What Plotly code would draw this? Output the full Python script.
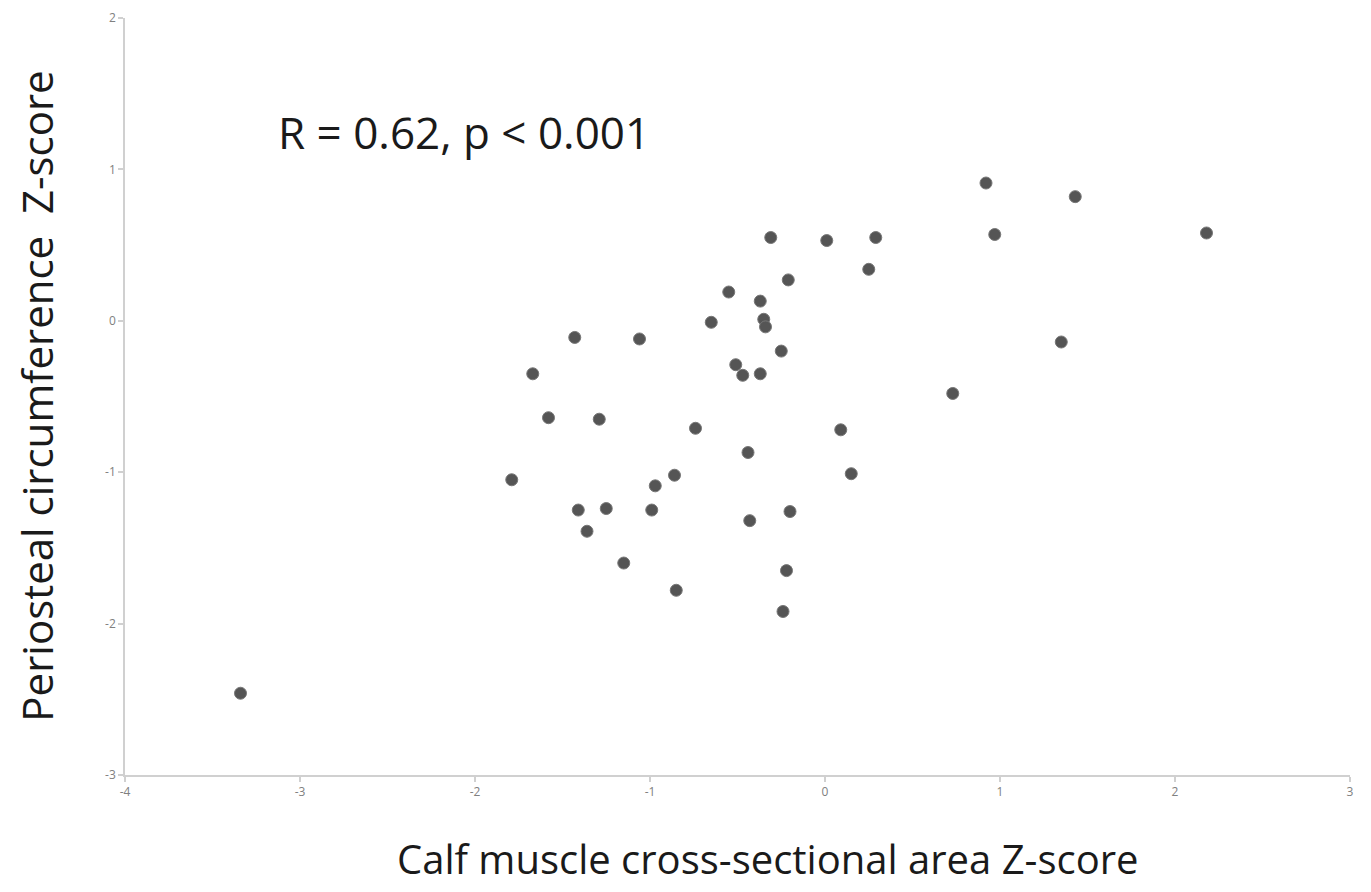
import plotly.graph_objects as go

x_vals = [-3.34, -1.79, -1.67, -1.58, -1.43, -1.41, -1.36, -1.29, -1.25, -1.15,
          -1.06, -0.99, -0.97, -0.86, -0.85, -0.74, -0.65, -0.55, -0.51, -0.47,
          -0.44, -0.43, -0.37, -0.37, -0.35, -0.34, -0.31, -0.25, -0.24, -0.22,
          -0.21, -0.20, 0.01, 0.09, 0.15, 0.25, 0.29, 0.73, 0.92, 0.97,
          1.35, 1.43, 2.18]
y_vals = [-2.46, -1.05, -0.35, -0.64, -0.11, -1.25, -1.39, -0.65, -1.24, -1.60,
          -0.12, -1.25, -1.09, -1.02, -1.78, -0.71, -0.01, 0.19, -0.29, -0.36,
          -0.87, -1.32, -0.35, 0.13, 0.01, -0.04, 0.55, -0.20, -1.92, -1.65,
          0.27, -1.26, 0.53, -0.72, -1.01, 0.34, 0.55, -0.48, 0.91, 0.57,
          -0.14, 0.82, 0.58]

x_ticks = [-4, -3, -2, -1, 0, 1, 2, 3]
y_ticks = [-3, -2, -1, 0, 1, 2]

x_title = "Calf muscle cross-sectional area Z-score"
y_title = "Periosteal circumference  Z-score"
stat_text = "R = 0.62, p < 0.001"

fig = go.Figure()
fig.add_trace(go.Scatter(
    x=x_vals, y=y_vals, mode="markers",
    marker=dict(size=12, color="#555555", line=dict(width=1, color="#777777")),
    showlegend=False,
))

axis_common = dict(
    showgrid=False, zeroline=False, showline=True, linecolor="#d0d0d0", linewidth=1.5,
    ticks="outside", ticklen=5, tickcolor="#d0d0d0", tickwidth=1.5,
    tickfont=dict(family="Open Sans", size=12, color="#808080"),
    automargin=False,
)

fig.update_xaxes(range=[-4, 3], tickvals=x_ticks, ticktext=[str(t) for t in x_ticks],
                 **axis_common)
fig.update_yaxes(range=[-3, 2], tickvals=y_ticks, ticktext=[str(t) for t in y_ticks],
                 **axis_common)

# axis titles as annotations for exact placement
fig.add_annotation(x=0.525, y=-0.11, xref="paper", yref="paper", text=x_title,
                   showarrow=False, xanchor="center", yanchor="middle",
                   font=dict(family="Open Sans", size=40, color="#1a1a1a"))
fig.add_annotation(x=-0.0725, y=0.5, xref="paper", yref="paper", text=y_title,
                   showarrow=False, xanchor="center", yanchor="middle", textangle=-90,
                   font=dict(family="Open Sans", size=42, color="#1a1a1a"))

fig.add_annotation(x=-3.14, y=1.245, xref="x", yref="y", text=stat_text,
                   showarrow=False, xanchor="left", yanchor="middle",
                   font=dict(family="Open Sans", size=44, color="#1a1a1a"))

fig.update_layout(
    width=1371, height=892,
    margin=dict(l=117, r=29, t=10, b=125, autoexpand=False),
    plot_bgcolor="white", paper_bgcolor="white",
)

fig.write_html("out.html")
